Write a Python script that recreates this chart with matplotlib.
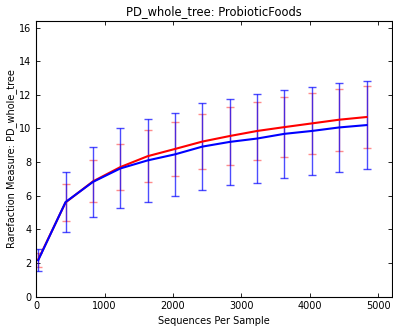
import matplotlib
matplotlib.use('Agg')
import matplotlib.pyplot as plt

# sequences per sample (rarefaction depths)
depths = [30, 430, 830, 1230, 1630, 2030, 2430, 2830, 3230, 3630, 4030, 4430, 4830]

# red series: mean and std
red_mean = [2.2, 5.6, 6.85, 7.7, 8.35, 8.78, 9.22, 9.55, 9.85, 10.08, 10.3, 10.52, 10.68]
red_err = [0.42, 1.11, 1.25, 1.35, 1.55, 1.58, 1.64, 1.74, 1.7, 1.79, 1.82, 1.85, 1.86]

# blue series: mean and std
blue_mean = [2.16, 5.62, 6.82, 7.62, 8.1, 8.46, 8.92, 9.2, 9.4, 9.68, 9.85, 10.06, 10.2]
blue_err = [0.65, 1.78, 2.1, 2.38, 2.48, 2.48, 2.6, 2.58, 2.62, 2.62, 2.64, 2.64, 2.62]

fig = plt.figure(figsize=(3.93, 3.31), dpi=100)
ax = fig.add_axes([0.092, 0.104, 0.905, 0.833])

# error bars first, mean lines on top
ax.errorbar(depths, red_mean, yerr=red_err, fmt='none', ecolor='red',
            elinewidth=1, capsize=3, alpha=0.45)
ax.errorbar(depths, blue_mean, yerr=blue_err, fmt='none', ecolor='blue',
            elinewidth=1, capsize=3, alpha=0.7)
ax.plot(depths, red_mean, color='red', lw=1.5)
ax.plot(depths, blue_mean, color='blue', lw=1.5)

ax.set_xlim(0, 5200)
ax.set_ylim(0, 16.4)
ax.set_xticks(range(0, 6000, 1000))
ax.set_yticks(range(0, 18, 2))
ax.tick_params(direction='in', top=True, right=True, labelsize=7, length=3, width=0.6)
for s in ax.spines.values():
    s.set_linewidth(0.8)

ax.set_title('PD_whole_tree: ProbioticFoods', fontsize=8.3, pad=4)
ax.set_xlabel('Sequences Per Sample', fontsize=7, labelpad=3)
ax.set_ylabel('Rarefaction Measure: PD_whole_tree', fontsize=7, labelpad=1.5)

fig.savefig('out.png', dpi=100)
